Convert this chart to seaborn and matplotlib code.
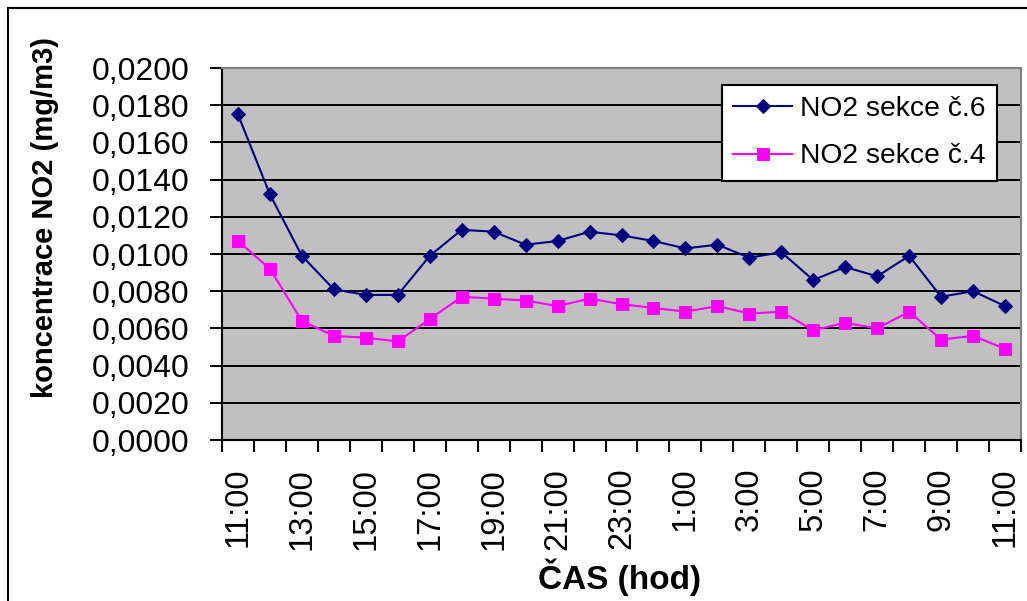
import numpy as np
import pandas as pd
import matplotlib
matplotlib.use("Agg")
import matplotlib.pyplot as plt
import seaborn as sns
from matplotlib.patches import Rectangle

# ---- data ----
hours = [f"{h}:00" for h in [11, 12, 13, 14, 15, 16, 17, 18, 19, 20, 21, 22, 23,
                             0, 1, 2, 3, 4, 5, 6, 7, 8, 9, 10, 11]]
no2_s6 = [0.0175, 0.0132, 0.0099, 0.0081, 0.0078, 0.0078, 0.0099, 0.0113, 0.0112,
          0.0105, 0.0107, 0.0112, 0.0110, 0.0107, 0.0103, 0.0105, 0.0098, 0.0101,
          0.0086, 0.0093, 0.0088, 0.0099, 0.0077, 0.0080, 0.0072]
no2_s4 = [0.0107, 0.0092, 0.0064, 0.0056, 0.0055, 0.0053, 0.0065, 0.0077, 0.0076,
          0.0075, 0.0072, 0.0076, 0.0073, 0.0071, 0.0069, 0.0072, 0.0068, 0.0069,
          0.0059, 0.0063, 0.0060, 0.0069, 0.0054, 0.0056, 0.0049]
series_names = ["NO2 sekce č.6", "NO2 sekce č.4"]
y_ticks = [0.0, 0.002, 0.004, 0.006, 0.008, 0.010, 0.012, 0.014, 0.016, 0.018, 0.020]
y_label = "koncentrace NO2 (mg/m3)"
x_label = "ČAS (hod)"

plt.rcParams["font.family"] = ["Liberation Sans", "DejaVu Sans"]

W, H = 1027, 601
fig = plt.figure(figsize=(W / 100, H / 100), dpi=100)
fig.patch.set_facecolor("white")

# outer chart border
fig.add_artist(Rectangle((8 / W, -0.2), 1.2, 1.2 - 8 / H, transform=fig.transFigure,
                         fill=False, edgecolor="black", linewidth=1.5))

ax = fig.add_axes([222 / W, 1 - 440 / H, 799 / W, 372 / H])
ax.set_facecolor("#C0C0C0")

idx = np.arange(len(hours))
df6 = pd.DataFrame({"i": idx, "v": no2_s6})
df4 = pd.DataFrame({"i": idx, "v": no2_s4})

sns.lineplot(data=df6, x="i", y="v", ax=ax, color="#000080", linewidth=1.5,
             marker="D", markersize=7.4, markeredgecolor="#000080",
             markerfacecolor="#000080", label=series_names[0], zorder=4)
sns.lineplot(data=df4, x="i", y="v", ax=ax, color="#FF00FF", linewidth=1.5,
             marker="s", markersize=9.0, markeredgecolor="#FF00FF",
             markerfacecolor="#FF00FF", label=series_names[1], zorder=3)

ax.set_xlim(-0.5, len(hours) - 0.5)
ax.set_ylim(0, 0.02)

# y axis
ax.set_yticks(y_ticks)
ax.set_yticklabels([f"{v:.4f}".replace(".", ",") for v in y_ticks])
ax.tick_params(axis="y", which="major", direction="out", length=8.6, width=1.4,
               pad=15, labelsize=23, color="black")
ax.grid(axis="y", color="black", linewidth=1.44)
ax.set_axisbelow(True)

# x axis: boundary ticks + labels at every other category
ax.set_xticks(np.arange(-0.5, len(hours), 1.0))
ax.set_xticklabels([])
ax.tick_params(axis="x", which="major", direction="out", length=8.6, width=1.4,
               color="black")
ax.set_xticks(idx[::2], minor=True)
ax.set_xticklabels(hours[::2], minor=True, rotation=90)
ax.tick_params(axis="x", which="minor", length=0, pad=20, labelsize=23.5)

ax.set_xlabel("")
ax.set_ylabel("")

for s in ["left", "bottom"]:
    ax.spines[s].set_color("black")
    ax.spines[s].set_linewidth(1.5)
for s in ["top", "right"]:
    ax.spines[s].set_color("#808080")
    ax.spines[s].set_linewidth(1.5)

leg = ax.legend(loc="upper right", bbox_to_anchor=((997 - 222) / 799, (440 - 85) / 372),
                borderaxespad=0, fontsize=20.3, frameon=True, fancybox=False,
                handlelength=2.1, handletextpad=0.28, labelspacing=0.75,
                borderpad=0.4)
leg.get_frame().set_edgecolor("black")
leg.get_frame().set_linewidth(1.5)
leg.get_frame().set_facecolor("white")
leg.get_frame().set_alpha(1)

fig.text(45 / W, 1 - 217 / H, y_label, rotation=90, ha="center", va="center",
         fontsize=21, fontweight="bold")
fig.text(620 / W, 1 - 577 / H, x_label, ha="center", va="center",
         fontsize=24, fontweight="bold")

fig.savefig("out.png", dpi=100)
